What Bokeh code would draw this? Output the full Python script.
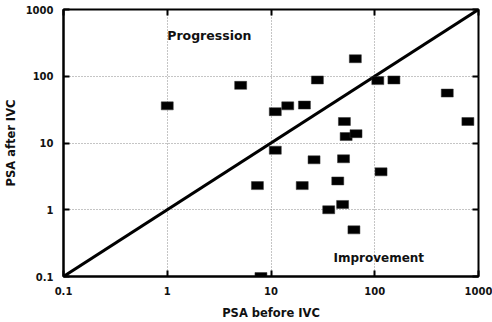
from bokeh.plotting import figure
from bokeh.models import (LogAxis, FixedTicker, CustomJSTickFormatter, Label,
                          ColumnDataSource, Range1d, CustomLabelingPolicy)
from bokeh.embed import file_html
from bokeh.resources import INLINE

# PSA values (ng/mL) for each patient, before and after IVC
psa_before = [1.0, 5.1, 28, 11, 14.5, 21, 51, 11, 26, 50, 53, 7.4, 20, 44,
              36, 49, 8, 65, 107, 153, 500, 790, 66, 115, 63]
psa_after = [36, 73, 88, 29.5, 36, 37, 21, 7.8, 5.6, 5.8, 12.5, 2.3, 2.3, 2.7,
             1.0, 1.2, 0.1, 183, 86, 88, 56, 21, 13.8, 3.7, 0.5]

# line of identity (no change)
identity = [0.1, 1000]

tick_values = [0.1, 1, 10, 100, 1000]

TICK_FONT = "DejaVu Sans"
LABEL_FONT = "DejaVu Sans"

p = figure(width=492, height=322, x_axis_type="log", y_axis_type="log",
           x_range=Range1d(0.1, 1000), y_range=Range1d(0.1, 1000),
           output_backend="svg", toolbar_location=None,
           min_border_left=63, min_border_right=14,
           min_border_top=9, min_border_bottom=42)
p.background_fill_color = "white"
p.border_fill_color = "white"
p.outline_line_color = "black"
p.outline_line_width = 2

ticker = FixedTicker(ticks=tick_values)
fmt = CustomJSTickFormatter(code="return String(tick);")

for ax in (p.xaxis[0], p.yaxis[0]):
    ax.ticker = ticker
    ax.formatter = fmt
    ax.axis_line_color = "black"
    ax.axis_line_width = 2
    ax.major_tick_in = 6
    ax.major_tick_out = 0
    ax.major_tick_line_width = 2
    ax.minor_tick_line_color = None
    ax.major_label_text_font = TICK_FONT
    ax.major_label_text_font_style = "bold"
    ax.major_label_text_font_size = "10px"
    ax.major_label_text_color = "#111111"
    ax.axis_label_text_font = LABEL_FONT
    ax.axis_label_text_font_style = "bold"
    ax.axis_label_text_font_size = "11.5px"
    ax.axis_label_text_color = "#111111"

p.xaxis.axis_label = "PSA before IVC"
p.yaxis.axis_label = "PSA after IVC"
p.xaxis.major_label_standoff = 10
p.yaxis.major_label_standoff = 10
p.xaxis.axis_label_standoff = 8
p.yaxis.axis_label_standoff = 5

# mirrored tick marks on the top and right edges (labels suppressed)
hide_all = CustomLabelingPolicy(
    code="for (const i of indices) indices.unset(i); return indices;")
for side in ("above", "right"):
    ax = LogAxis(ticker=ticker, formatter=fmt)
    ax.axis_line_color = None
    ax.major_tick_in = 6
    ax.major_tick_out = 0
    ax.major_tick_line_width = 2
    ax.minor_tick_line_color = None
    ax.major_label_policy = hide_all
    ax.major_label_text_font_size = "1px"
    ax.major_label_standoff = 0
    p.add_layout(ax, side)

for g in (p.xgrid[0], p.ygrid[0]):
    g.ticker = ticker
    g.grid_line_color = "#8a8a8a"
    g.grid_line_dash = "1 2"
    g.grid_line_width = 1

p.line(identity, identity, line_color="black", line_width=3)

src = ColumnDataSource(dict(x=psa_before, y=psa_after))
p.rect(x="x", y="y", width=12, height=8, width_units="screen",
       height_units="screen", source=src, fill_color="black",
       line_color="#333333", line_width=0.5)

p.add_layout(Label(x=1.0, y=410, text="Progression", text_font=LABEL_FONT,
                   text_font_style="bold", text_font_size="12.5px",
                   text_baseline="middle", text_color="#111111"))
p.add_layout(Label(x=40, y=0.19, text="Improvement", text_font=LABEL_FONT,
                   text_font_style="bold", text_font_size="12px",
                   text_baseline="middle", text_color="#111111"))

open("out.html", "w").write(file_html(p, INLINE))
